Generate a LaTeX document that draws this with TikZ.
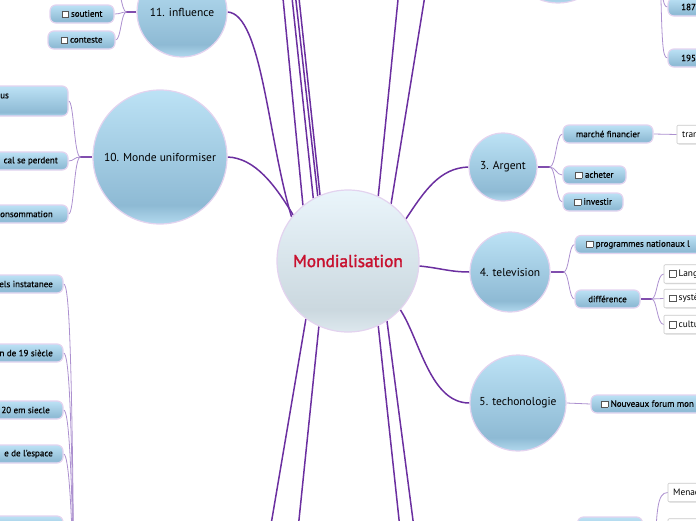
\documentclass[tikz,border=0pt]{standalone}
\usepackage{fontspec}
\setmainfont{PT Sans}
\newfontfamily\semib[FakeBold=0.45]{PT Sans}
\newfontfamily\titlefont[FakeBold=1.7]{PT Sans}
\usetikzlibrary{shadows}
\definecolor{bubtop}{HTML}{BCE2F5}
\definecolor{bubdark}{HTML}{8EBAD4}
\definecolor{bubbot}{HTML}{B2D9EE}
\definecolor{cenTop}{HTML}{EAF5FB}
\definecolor{cenDark}{HTML}{CBD8DF}
\definecolor{cenBot}{HTML}{DDE8EE}
\definecolor{rimcol}{HTML}{E3D3EF}
\definecolor{mainline}{HTML}{6B2FA0}
\definecolor{subline}{HTML}{AC90CF}
\definecolor{titlered}{HTML}{C8102E}
\definecolor{chkgray}{HTML}{555555}
\definecolor{wborder}{HTML}{C8C8C8}
\pgfdeclareverticalshading{bubshade}{100bp}{color(0bp)=(bubbot); color(25bp)=(bubbot); color(32bp)=(bubdark); color(75bp)=(bubtop); color(100bp)=(bubtop)}
\pgfdeclareverticalshading{boxshade}{100bp}{color(0bp)=(bubbot); color(25bp)=(bubbot); color(31bp)=(bubdark); color(75bp)=(bubtop); color(100bp)=(bubtop)}
\pgfdeclareverticalshading{censhade}{100bp}{color(0bp)=(cenBot); color(25bp)=(cenBot); color(33bp)=(cenDark); color(75bp)=(cenTop); color(100bp)=(cenTop)}
\pgfdeclarelayer{bg}
\pgfsetlayers{bg,main}
\newcommand\chk{\raisebox{-0.4pt}{\setlength{\fboxsep}{0pt}\setlength{\fboxrule}{0.5pt}\textcolor{chkgray}{\fbox{\textcolor{white}{\rule{6pt}{6pt}}}}}\hspace{2.5pt}}
\tikzset{
  bub/.style={circle, draw=rimcol, line width=1.2pt, shading=bubshade, minimum size=#1, inner sep=0pt, align=center, font=\fontsize{11.5}{13}\selectfont},
  cen/.style={circle, draw=rimcol, line width=1.2pt, shading=censhade, minimum size=142pt, inner sep=0pt, text=titlered, font=\titlefont\fontsize{17.3}{19}\selectfont},
  bbox/.style={rectangle, rounded corners=6pt, draw=rimcol, line width=1.2pt, shading=boxshade, minimum height=18pt, inner sep=0pt, font=\semib\fontsize{9}{10}\selectfont},
  wbox/.style={rectangle, rounded corners=1pt, draw=wborder, line width=0.6pt, fill=white, minimum height=18.5pt, inner sep=0pt, drop shadow={shadow xshift=1pt, shadow yshift=-1pt, opacity=0.18}},
  btxt/.style={inner sep=0pt, font=\semib\fontsize{9}{10}\selectfont},
  wtxt/.style={inner sep=0pt, font=\fontsize{9.3}{10}\selectfont},
  mainl/.style={draw=mainline, line width=1.5pt},
  stubl/.style={draw=mainline!85, line width=1.3pt},
  subl/.style={draw=subline, line width=0.8pt},
}
\begin{document}
\begin{tikzpicture}[x=1pt,y=-1pt]
\useasboundingbox (0,0) rectangle (696,520);
\clip (0,0) rectangle (696,520);
% circles
\node[cen] (mond) at (348,261) {Mondialisation};
\node[bub=90pt] (infl) at (182,12) {11. influence};
\node[bub=134pt] (monde) at (160,157) {10. Monde uniformiser};
\node[bub=68pt] (argent) at (503,167) {3. Argent};
\node[bub=80pt] (tele) at (510,272) {4. television};
\node[bub=96pt] (techno) at (518,403) {5. techonologie};
\node[bub=100pt] (two) at (558,-47) {};
% influence children
\node[bbox, minimum width=64pt] (sout) at (82,14) {\chk soutient};
\node[bbox, minimum width=67pt] (cont) at (81.5,40) {\chk conteste};
\coordinate (inflc) at (112,-18);
% monde children
\node[bbox, minimum width=168pt, minimum height=30pt] (m1) at (-16,101) {};
\node[btxt, anchor=east] at (9,96) {us};
\node[bbox, minimum width=168pt] (m2) at (-16,161) {};
\node[btxt, anchor=east] at (58,161) {cal se perdent};
\node[bbox, minimum width=168pt] (m3) at (-16,214) {};
\node[btxt, anchor=east] at (53,214) {onsommation};
% left list
\node[bbox, minimum width=160pt] (l1) at (-17,284) {};
\node[btxt, anchor=east] at (53,284) {els instatanee};
\node[bbox, minimum width=160pt] (l2) at (-17,353) {};
\node[btxt, anchor=east] at (53,353) {n de 19 siècle};
\node[bbox, minimum width=160pt] (l3) at (-17,410) {};
\node[btxt, anchor=east] at (50,410) {20 em siecle};
\node[bbox, minimum width=160pt] (l4) at (-17,454) {};
\node[btxt, anchor=east] at (53,454) {e de l'espace};
\node[bbox, minimum width=160pt] (l5) at (-17,525) {};
\coordinate (lp) at (74,600);
% argent children
\node[bbox, minimum width=90pt] (mf) at (608,134) {marché financier};
\node[bbox, minimum width=63pt] (ach) at (594.5,175) {\chk acheter};
\node[bbox, minimum width=60pt] (inv) at (593,202) {\chk investir};
\node[wbox, minimum width=100pt] (tran) at (727,134.5) {};
\node[wtxt, anchor=west] at (682,134.5) {tran};
% television children
\node[bbox, minimum width=200pt] (prog) at (675,244.5) {};
\node[btxt, anchor=west] at (586,244.5) {\chk programmes nationaux l};
\node[bbox, minimum width=65pt] (diff) at (607.5,299) {différence};
\node[wbox, minimum width=100pt] (w1) at (714,274) {};
\node[wtxt, anchor=west] at (669,274) {\chk Lang};
\node[wbox, minimum width=100pt] (w2) at (714,298.5) {};
\node[wtxt, anchor=west] at (669,298.5) {\chk systè};
\node[wbox, minimum width=100pt] (w3) at (714,324.5) {};
\node[wtxt, anchor=west] at (669,324.5) {\chk cultu};
% techno child
\node[bbox, minimum width=200pt] (nf) at (691,404) {};
\node[btxt, anchor=west] at (601,404) {\chk Nouveaux forum mon};
% top right children
\node[bbox, minimum width=100pt] (b187) at (718,7) {};
\node[btxt, anchor=west] at (681,7) {187};
\node[bbox, minimum width=100pt] (b195) at (718,58) {};
\node[btxt, anchor=west] at (681,58) {195};
\coordinate (trp) at (660,-40);
% bottom right
\node[bbox, minimum width=65pt, minimum height=22pt] (br) at (610,528) {};
\node[wbox, minimum width=100pt] (menac) at (718,492.5) {};
\node[wtxt, anchor=west] at (673,492.5) {Menac};
\node[wbox, minimum width=100pt] (w5) at (718,528) {};
\coordinate (brp) at (655,570);
% off-frame ends
\coordinate (t1) at (277.4,-60);
\coordinate (t2) at (285.9,-60);
\coordinate (t3) at (289.2,-60);
\coordinate (t3b) at (292.8,-60);
\coordinate (t4) at (404,-60);
\coordinate (t5) at (434,-60);
\coordinate (d1) at (261.6,580);
\coordinate (d2) at (292.8,580);
\coordinate (d3) at (405.5,580);
\coordinate (d4) at (420.8,580);
\begin{pgfonlayer}{bg}
\clip (0,0) rectangle (696,520);
% main branches
\draw[mainl] (mond.142) .. controls (268,140) and (262,14) .. (infl.east);
\draw[mainl] (mond.140) .. controls (275,185) and (255,158) .. (monde.east);
\draw[mainl] (mond.129.4) -- (t1);
\draw[mainl] (mond.119.4) -- (t2);
\draw[mainl] (mond.115.9) -- (t3);
\draw[mainl] (mond.113.1) -- (t3b);
\draw[mainl] (mond.65) -- (t4);
\draw[mainl] (mond.53.6) -- (t5);
\draw[mainl] (mond.234.7) -- (d1);
\draw[mainl] (mond.246) -- (d2);
\draw[mainl] (mond.295) -- (d3);
\draw[mainl] (mond.303.5) -- (d4);
\draw[mainl] (mond.36) .. controls (425,190) and (440,168) .. (argent.west);
\draw[mainl] (mond.-4) .. controls (440,268) and (450,272) .. (tele.west);
\draw[mainl] (mond.-43) .. controls (420,340) and (430,403) .. (techno.west);
% influence
\draw[stubl] (infl.west) -- ++(-10,0) coordinate (ji);
\draw[subl] (ji) .. controls (121,12) and (121,14) .. (sout.east);
\draw[subl] (ji) .. controls (121,12) and (121,40) .. (cont.east);
\draw[subl] (ji) .. controls (121,12) and (121,-18) .. (inflc);
% monde
\draw[stubl] (monde.west) -- ++(-12,0) coordinate (jm);
\draw[subl] (jm) .. controls (74,157) and (74,101) .. (m1.east);
\draw[subl] (jm) .. controls (74,157) and (74,161) .. (m2.east);
\draw[subl] (jm) .. controls (74,157) and (74,214) .. (m3.east);
% left list
\draw[subl] (lp) .. controls (72,344) and (69,284) .. (l1.east);
\draw[subl] (lp) .. controls (72,413) and (69,353) .. (l2.east);
\draw[subl] (lp) .. controls (72,470) and (69,410) .. (l3.east);
\draw[subl] (lp) .. controls (72,514) and (69,454) .. (l4.east);
\draw[subl] (lp) .. controls (72,585) and (69,525) .. (l5.east);
% argent
\draw[stubl] (argent.east) -- ++(12,0) coordinate (ja);
\draw[subl] (ja) .. controls (556,167) and (556,134) .. (mf.west);
\draw[subl] (ja) .. controls (556,167) and (556,175) .. (ach.west);
\draw[subl] (ja) .. controls (556,167) and (556,202) .. (inv.west);
\draw[subl] (mf.east) -- (tran.west);
% television
\draw[stubl] (tele.east) -- ++(13,0) coordinate (jt);
\draw[subl] (jt) .. controls (569,272) and (569,244.5) .. (prog.west);
\draw[subl] (jt) .. controls (569,272) and (569,299) .. (diff.west);
\draw[stubl] (diff.east) -- ++(11,0) coordinate (jd);
\draw[subl] (jd) .. controls (657,299) and (657,274) .. (w1.west);
\draw[subl] (jd) .. controls (657,299) and (657,298.5) .. (w2.west);
\draw[subl] (jd) .. controls (657,299) and (657,324.5) .. (w3.west);
% techno
\draw[subl] (techno.east) -- (nf.west);
% top right
\draw[subl] (trp) .. controls (662,-10) and (662,7) .. (b187.west);
\draw[subl] (trp) .. controls (662,40) and (662,58) .. (b195.west);
% bottom right
\draw[subl] (brp) .. controls (656,510) and (657,492.5) .. (menac.west);
\draw[subl] (brp) .. controls (656,545) and (657,528) .. (w5.west);
\end{pgfonlayer}
\end{tikzpicture}
\end{document}
